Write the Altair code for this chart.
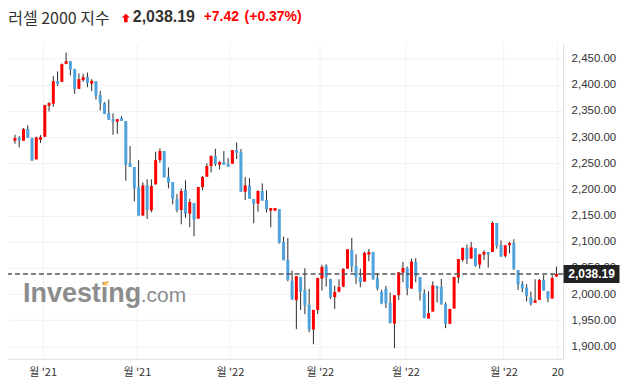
import json
import numpy as np
import pandas as pd
import altair as alt

# ---------------- data ----------------
opens = [2292.9, 2298.0, 2292.9, 2315.2, 2298.0, 2257.3, 2294.8, 2300.5, 2359.7, 2363.5,
         2406.8, 2405.5, 2439.8, 2444.9, 2429.6, 2392.1, 2408.7, 2414.4, 2401.7, 2406.8,
         2380.0, 2364.8, 2345.7, 2334.2, 2329.2, 2336.2, 2330.4, 2250.3, 2242.7, 2204.5,
         2150.0, 2207.7, 2160.0, 2209.6, 2256.0, 2273.2, 2224.2, 2214.0, 2181.6, 2160.6,
         2198.8, 2153.6, 2174.0, 2144.1, 2204.5, 2224.2, 2244.6, 2263.7, 2247.1, 2252.2,
         2249.0, 2249.0, 2275.1, 2271.3, 2195.6, 2207.7, 2181.6, 2172.7, 2196.9, 2179.7,
         2159.3, 2159.3, 2162.5, 2099.6, 2065.2, 2025.8, 1988.3, 2032.8, 2008.0, 1979.4,
         1932.3, 1969.8, 2029.6, 2054.4, 2029.0, 1994.0, 2004.8, 2014.3, 2048.7, 2084.3,
         2053.8, 2032.8, 2023.9, 2075.4, 2080.5, 2030.2, 2004.2, 2009.9, 1983.2, 1943.7,
         1997.8, 2041.1, 2050.0, 2010.5, 2061.4, 2032.8, 2001.6, 1953.3, 1966.6, 2015.6,
         2013.7, 1981.3, 1943.1, 1972.4, 2031.5, 2065.2, 2088.1, 2067.8, 2087.5, 2056.3,
         2075.4, 2080.5, 2080.5, 2135.8, 2093.8, 2072.9, 2093.2, 2097.7, 2046.1, 2019.4,
         2012.4, 1994.0, 1983.2, 1988.9, 2027.1, 2005.4, 1991.4, 2033.4]
highs = [2304.4, 2301.8, 2317.1, 2322.2, 2298.6, 2300.5, 2303.7, 2361.6, 2366.7, 2416.3,
         2425.2, 2440.5, 2461.4, 2444.9, 2430.2, 2421.4, 2420.7, 2423.3, 2410.6, 2406.8,
         2387.7, 2366.7, 2371.8, 2345.1, 2334.2, 2340.0, 2330.4, 2282.7, 2242.7, 2256.0,
         2213.4, 2219.1, 2219.1, 2271.9, 2278.3, 2273.2, 2242.0, 2214.0, 2191.1, 2202.0,
         2217.2, 2182.2, 2174.0, 2204.5, 2225.5, 2249.7, 2265.0, 2277.6, 2254.1, 2273.2,
         2259.8, 2275.1, 2289.7, 2277.0, 2223.6, 2221.7, 2181.6, 2198.1, 2211.5, 2198.1,
         2164.4, 2164.4, 2162.5, 2109.7, 2107.2, 2044.9, 2034.1, 2032.8, 2049.3, 2009.9,
         1969.8, 2030.9, 2055.7, 2057.0, 2029.0, 2016.2, 2028.3, 2049.3, 2085.6, 2107.2,
         2076.0, 2048.7, 2081.1, 2086.2, 2080.5, 2039.8, 2008.0, 2015.6, 2002.9, 1997.8,
         2041.7, 2061.4, 2052.5, 2067.8, 2068.4, 2032.8, 2009.3, 2005.4, 2024.5, 2015.6,
         2029.0, 1984.4, 1971.7, 2032.8, 2067.1, 2089.4, 2094.5, 2099.6, 2087.5, 2076.0,
         2083.7, 2080.5, 2139.0, 2135.8, 2102.7, 2093.2, 2099.6, 2104.7, 2046.1, 2024.5,
         2018.8, 2004.8, 2028.3, 2029.0, 2036.0, 2005.4, 2036.6, 2052.5]
lows = [2287.2, 2280.2, 2292.9, 2298.0, 2254.7, 2257.3, 2289.0, 2300.0, 2348.9, 2357.8,
        2397.8, 2404.9, 2439.2, 2417.6, 2382.6, 2392.1, 2405.5, 2395.3, 2387.7, 2371.8,
        2350.8, 2343.8, 2333.0, 2304.4, 2306.3, 2331.1, 2216.6, 2242.7, 2177.2, 2150.0,
        2150.0, 2143.4, 2156.2, 2209.6, 2250.9, 2223.0, 2202.0, 2171.4, 2156.2, 2133.3,
        2146.0, 2127.6, 2110.4, 2144.1, 2198.1, 2224.2, 2232.5, 2244.6, 2238.2, 2247.1,
        2243.3, 2249.0, 2257.9, 2195.6, 2179.7, 2182.2, 2135.2, 2157.4, 2178.4, 2156.2,
        2127.6, 2159.3, 2096.4, 2064.6, 2024.5, 1989.5, 1933.0, 1969.8, 1961.6, 1927.2,
        1904.3, 1961.6, 2006.7, 2014.3, 1990.8, 1971.7, 2003.5, 2013.1, 2048.7, 2041.7,
        2019.4, 2013.1, 2023.9, 2062.7, 2027.1, 2006.7, 1980.6, 1973.0, 1943.7, 1896.7,
        1988.9, 2022.6, 1997.8, 2010.5, 2022.6, 1987.6, 1953.9, 1953.3, 1966.6, 1983.8,
        1979.4, 1934.8, 1943.1, 1972.4, 2020.7, 2062.0, 2057.6, 2067.8, 2052.5, 2048.7,
        2065.2, 2050.6, 2080.5, 2086.8, 2071.6, 2069.7, 2078.0, 2046.1, 2008.0, 2003.5,
        1985.7, 1978.1, 1983.2, 1988.9, 2006.7, 1984.4, 1991.4, 2033.4]
closes = [2298.0, 2292.9, 2315.2, 2298.6, 2254.7, 2299.3, 2299.9, 2361.0, 2364.8, 2406.8,
          2401.7, 2439.2, 2444.9, 2429.0, 2392.1, 2410.6, 2414.4, 2403.6, 2407.4, 2379.4,
          2364.8, 2344.4, 2333.0, 2329.2, 2334.2, 2331.1, 2247.1, 2242.7, 2202.0, 2150.0,
          2207.7, 2161.3, 2206.4, 2256.0, 2273.2, 2223.0, 2212.8, 2182.2, 2160.6, 2196.9,
          2153.6, 2175.9, 2142.2, 2204.5, 2223.6, 2244.6, 2263.7, 2248.4, 2252.2, 2247.1,
          2243.3, 2275.1, 2270.0, 2195.6, 2207.7, 2182.2, 2172.7, 2196.9, 2178.4, 2161.9,
          2164.4, 2164.4, 2097.7, 2064.6, 2027.1, 1989.5, 2034.1, 2005.0, 1978.1, 1932.3,
          1969.8, 2030.9, 2051.9, 2032.1, 1994.0, 2004.2, 2013.7, 2048.1, 2085.6, 2052.5,
          2032.1, 2022.6, 2078.6, 2080.5, 2029.0, 2010.5, 1982.1, 1982.1, 1945.0, 1997.8,
          2041.7, 2050.0, 2010.5, 2062.0, 2033.4, 2004.2, 1953.9, 1963.5, 2016.9, 2010.5,
          1981.3, 1943.1, 1971.7, 2032.8, 2067.1, 2088.1, 2067.1, 2089.4, 2053.8, 2076.0,
          2080.5, 2075.4, 2135.8, 2091.9, 2071.6, 2093.2, 2097.7, 2048.1, 2018.2, 2010.5,
          1996.5, 1981.3, 1988.3, 2027.1, 2006.7, 1991.4, 2030.77, 2038.19]

title_text = "러셀 2000 지수"
last_price = 2038.19
change_text = "+7.42"
pct_text = "(+0.37%)"

x_tick_pos = [6.5, 28.6, 50.4, 71.5, 91.6, 114.6, 127.2]
x_tick_labels = ["월 '21", "월 '21", "월 '22", "월 '22", "월 '22", "월 '22", "20"]
y_ticks = list(range(1900, 2451, 50))

# ---------------- styling ----------------
RED = "#ff0000"
BLUE = "#4fa3dc"
WICK = "#2b2b2b"
GRID = "#f2f2f2"
DOMAIN = "#dcdcdc"
W, H = 556, 316

df = pd.DataFrame({"i": np.arange(len(opens)), "open": opens, "high": highs,
                   "low": lows, "close": closes})
df["dir"] = np.where(df["close"] >= df["open"], "up", "down")

xscale = alt.Scale(domain=[-0.46, 127.39], nice=False, zero=False)
yscale = alt.Scale(domain=[1876.5, 2479.2], nice=False, zero=False)

label_expr = (json.dumps(x_tick_labels, ensure_ascii=False)
              + "[indexof(" + json.dumps(x_tick_pos) + ", datum.value)]")

x_axis = alt.Axis(values=x_tick_pos, labelExpr=label_expr, grid=True, gridColor=GRID,
                  ticks=False, tickSize=0, domainColor=DOMAIN, labelFont="Noto Sans CJK KR",
                  labelFontSize=11, labelColor="#333333", labelPadding=14,
                  labelBaseline="middle", labelFlush=False, labelOverlap=False, title=None)
y_axis = alt.Axis(orient="right", values=y_ticks, format=",.2f", grid=True, gridColor=GRID,
                  ticks=False, tickSize=0, domainColor=DOMAIN, labelFont="Liberation Sans",
                  labelFontSize=11.5, labelColor="#333333", labelPadding=8,
                  labelFlush=False, labelOverlap=False, title=None)

X = alt.X("i:Q", scale=xscale, axis=x_axis)

base = alt.Chart(df)
wicks = base.mark_rule(color=WICK, strokeWidth=1).encode(
    x=X, y=alt.Y("low:Q", scale=yscale, axis=y_axis), y2="high:Q")
bodies = base.mark_bar(size=3).encode(
    x=X, y=alt.Y("open:Q", scale=yscale, axis=y_axis), y2="close:Q",
    color=alt.Color("dir:N", scale=alt.Scale(domain=["up", "down"], range=[RED, BLUE]),
                    legend=None))

pdf = pd.DataFrame({"price": [last_price], "label": [f"{last_price:,.2f}"]})
dashed = alt.Chart(pdf).mark_rule(color="#555555", strokeWidth=1.5, strokeDash=[5, 3]).encode(
    y=alt.Y("price:Q", scale=yscale, axis=y_axis))
BOX = "M-1,-0.3214 L1,-0.3214 L1,0.3214 L-1,0.3214 Z"
box = alt.Chart(pdf).mark_point(shape=BOX, filled=True, size=3136, color="#222222",
                                opacity=1, strokeWidth=0).encode(
    x=alt.value(584.5), y=alt.Y("price:Q", scale=yscale, axis=y_axis))
box_text = alt.Chart(pdf).mark_text(color="white", font="Liberation Sans", fontSize=12,
                                    fontWeight="bold", align="center", baseline="middle").encode(
    x=alt.value(584.5), y=alt.Y("price:Q", scale=yscale, axis=y_axis), text="label:N")


def txt(s, x, y, size, color, weight="normal", font="Liberation Sans"):
    return alt.Chart(pd.DataFrame({"t": [s]})).mark_text(
        align="left", baseline="middle", font=font, fontSize=size, fontWeight=weight,
        color=color).encode(x=alt.value(x), y=alt.value(y), text="t:N")


ARROW = "M0,-1 L1,-0.1 L0.45,-0.1 L0.45,1.1 L-0.45,1.1 L-0.45,-0.1 L-1,-0.1 Z"
arrow = alt.Chart(pd.DataFrame({"t": [1]})).mark_point(
    shape=ARROW, filled=True, size=64, color=RED, opacity=1, strokeWidth=0).encode(
    x=alt.value(118), y=alt.value(-25.5))

header = [
    txt(title_text, 0.3, -24.5, 16, "#333333", font="Noto Sans CJK KR"),
    arrow,
    txt(f"{last_price:,.2f}", 125, -26, 16, "#333333", "bold"),
    txt(change_text, 196, -26, 14, RED, "bold"),
    txt(pct_text, 237, -26, 14, RED, "bold"),
]

# watermark
wm1 = alt.Chart(pd.DataFrame({"t": ["Investing"]})).mark_text(
    align="left", baseline="alphabetic", font="Liberation Sans", fontSize=27,
    fontWeight="bold", color="#8c8c8c").encode(x=alt.value(15), y=alt.value(258.7), text="t:N")
wm2 = alt.Chart(pd.DataFrame({"t": [".com"]})).mark_text(
    align="left", baseline="alphabetic", font="Liberation Sans", fontSize=21,
    color="#8c8c8c").encode(x=alt.value(133), y=alt.value(258.7), text="t:N")
DOT = "M-0.3,-0.65 L1,-0.65 L0.3,0.65 L-1,0.65 Z"
wm_dot = alt.Chart(pd.DataFrame({"t": [1]})).mark_point(
    shape=DOT, filled=True, size=40, color="#f7bd5b", opacity=1, strokeWidth=0).encode(
    x=alt.value(98), y=alt.value(240.5))

chart = alt.layer(wm1, wm2, wm_dot, wicks, bodies, dashed, box, box_text, *header).properties(
    width=W, height=H,
    autosize=alt.AutoSizeParams(type="none"),
    padding={"left": 0, "top": 35, "right": 60, "bottom": 20},
    background="white",
).configure_view(stroke=None)

chart.save("out.html", embed_options={"renderer": "svg", "actions": False})
